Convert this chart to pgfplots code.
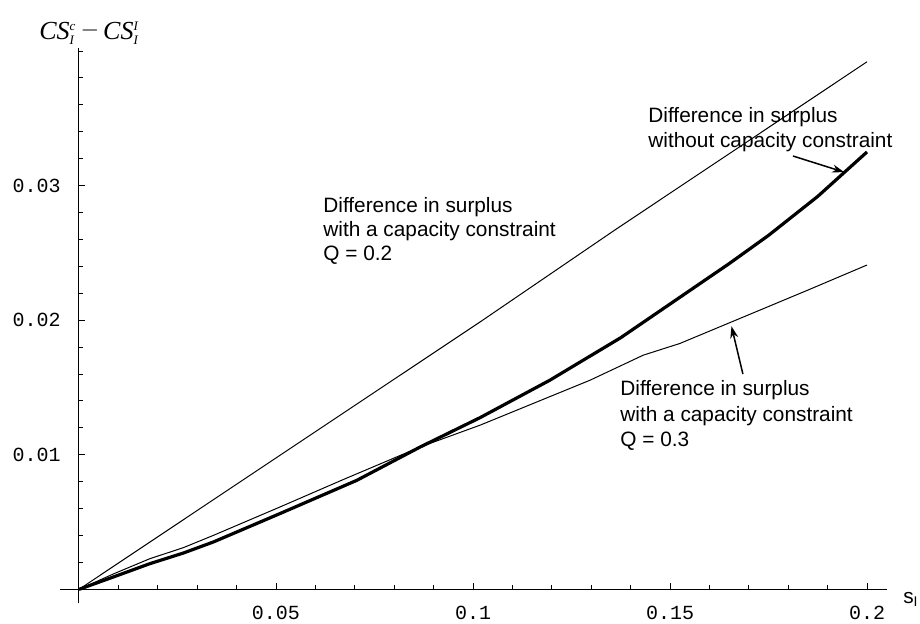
\documentclass[border=0pt]{standalone}
\usepackage{fontspec}
\setmainfont{Liberation Sans}
\newfontfamily\seriff{Liberation Serif}
\newfontfamily\monof{Liberation Mono}
\usepackage{pgfplots}
\pgfplotsset{compat=1.18}
\usetikzlibrary{arrows.meta}

\pgfplotstableread{
x y
0 0
0.051 0.00996
0.1018 0.01987
0.136 0.0267
0.2 0.0392
}\qtwo

\pgfplotstableread{
x y
0 0
0.009 0.00095
0.018 0.00191
0.0265 0.0027
0.0341 0.00352
0.051 0.00563
0.0705 0.0081
0.0866 0.01058
0.1018 0.01276
0.1195 0.01554
0.1375 0.0187
0.155 0.0222
0.165 0.0242
0.175 0.0263
0.1875 0.0292
0.2 0.0325
}\nocap

\pgfplotstableread{
x y
0 0
0.009 0.00118
0.018 0.00228
0.0265 0.0031
0.0341 0.00401
0.051 0.00612
0.067 0.00815
0.0866 0.01058
0.1018 0.0122
0.1297 0.01554
0.1432 0.0174
0.1525 0.01827
0.1847 0.0222
0.2 0.0241
}\qthree

\begin{document}
\begin{tikzpicture}
\begin{axis}[
  scale only axis, width=413.5pt, height=277.5pt,
  xmin=-0.0048, xmax=0.2051, ymin=-0.00104, ymax=0.0402,
  axis lines=middle,
  axis line style={-, line width=0.5pt, black},
  scaled x ticks=false, scaled y ticks=false,
  xtick={0.05,0.1,0.15,0.2},
  xticklabels={0.05,0.1,0.15,0.2},
  minor xtick={0.01,0.02,0.03,0.04,0.06,0.07,0.08,0.09,0.11,0.12,0.13,0.14,0.16,0.17,0.18,0.19},
  ytick={0.01,0.02,0.03},
  yticklabels={0.01,0.02,0.03},
  minor ytick={0.002,0.004,0.006,0.008,0.012,0.014,0.016,0.018,0.022,0.024,0.026,0.028,0.032,0.034,0.036,0.038,0.04},
  tick align=inside,
  major tick length=3pt, minor tick length=2pt,
  every tick/.style={black, line width=0.5pt},
  xticklabel style={font=\monof\fontsize{10}{12}\selectfont, anchor=center, yshift=-12pt},
  yticklabel style={font=\monof\fontsize{10}{12}\selectfont, anchor=east, inner sep=0pt, xshift=-9pt},
  clip=false,
]
\addplot[black, line width=0.5pt] table {\qtwo};
\addplot[black, line width=0.5pt] table {\qthree};
\addplot[black, line width=1.6pt, line join=round] table {\nocap};

\draw[line width=0.75pt, -{Stealth[length=6pt,width=4pt]}] (axis cs:0.1812,0.0322) -- (axis cs:0.1942,0.0310);
\draw[line width=0.75pt, -{Stealth[length=6pt,width=4pt]}] (axis cs:0.1685,0.0160) -- (axis cs:0.1656,0.01955);

\begin{scope}[every node/.style={anchor=base west, inner sep=0pt, font=\fontsize{10.4}{12}\selectfont}]
\node at (axis cs:0.14442,0.034721) {Difference in surplus};
\node at (axis cs:0.14442,0.032862) {without capacity constraint};
\node at (axis cs:0.061929,0.028030) {Difference in surplus};
\node at (axis cs:0.061929,0.026245) {with a capacity constraint};
\node at (axis cs:0.061929,0.024461) {Q = 0.2};
\node at (axis cs:0.13731,0.014424) {Difference in surplus};
\node at (axis cs:0.13731,0.012491) {with a capacity constraint};
\node at (axis cs:0.13731,0.010632) {Q = 0.3};
\node at (axis cs:0.2091,-0.00104) {s$_{\mbox{\fontsize{7}{7}\selectfont I}}$};
\end{scope}
\node[anchor=base west, inner sep=0pt, font=\seriff\fontsize{13}{14}\selectfont] at (axis cs:-0.01015,0.040892)
 {\textit{CS}$^{\mbox{\fontsize{6.5}{6.5}\selectfont\textit{c}}}_{\mbox{\fontsize{6.5}{6.5}\selectfont\textit{I}}}\,\raisebox{1.5pt}{$-$}\,$\textit{CS}$^{\mbox{\fontsize{6.5}{6.5}\selectfont\textit{I}}}_{\mbox{\fontsize{6.5}{6.5}\selectfont\textit{I}}}$};

\coordinate (bl) at (axis cs:-0.02005,-0.002528);
\coordinate (tr) at (axis cs:0.21345,0.043792);
\end{axis}
\pgfresetboundingbox
\path[use as bounding box] (bl) rectangle (tr);
\end{tikzpicture}
\end{document}
